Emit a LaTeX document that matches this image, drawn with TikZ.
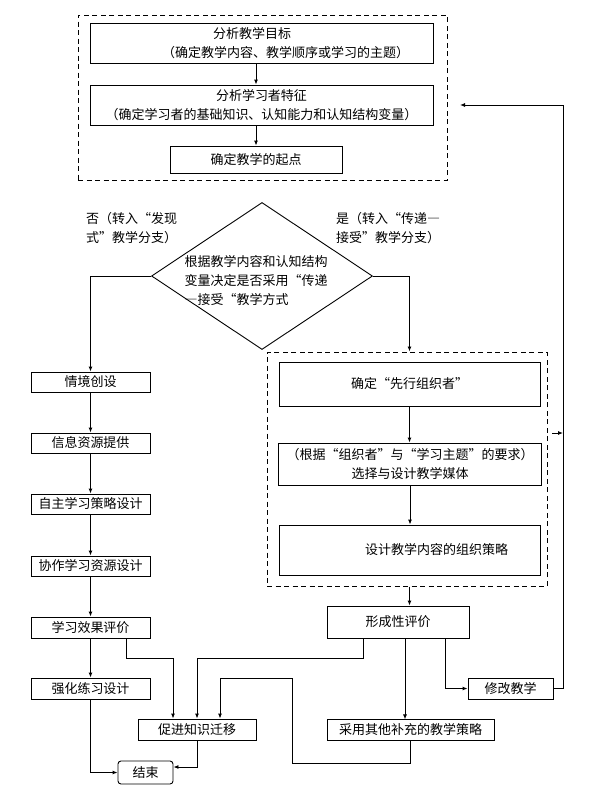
\documentclass[tikz,border=0pt]{standalone}
\usepackage{fontspec}
\setmainfont{Noto Sans CJK SC}[RawFeature=+fwid]
\usetikzlibrary{shapes.geometric,arrows.meta}

\begin{document}
\begin{tikzpicture}[x=1pt, y=-1pt,
    every node/.style={font=\fontsize{13}{19}\selectfont},
    box/.style={draw, line width=0.9pt, inner sep=0pt, align=center},
    frame/.style={draw, line width=1pt, dash pattern=on 5pt off 3.5pt, inner sep=0pt},
    decision/.style={draw, diamond, line width=0.9pt, inner sep=0pt},
    link/.style={line width=0.9pt, -{Latex[length=5pt,width=4pt]}}]
\useasboundingbox (0,0) rectangle (592,793);
\node[frame, minimum width=369pt, minimum height=165pt] (topframe) at (262.5,97.5) {}; % TopFrame
\node[box, minimum width=343pt, minimum height=40pt] (aim) at (261.5,43) {分析教学目标\hspace*{19pt}\\\hspace*{48pt}（确定教学内容、教学顺序或学习的主题）}; % Aim
\node[box, minimum width=343pt, minimum height=40pt] (learner) at (261.5,105) {分析学习者特征\\（确定学习者的基础知识、认知能力和认知结构变量）}; % Learner
\node[box, minimum width=172pt, minimum height=27pt] (start) at (256,159.5) {确定教学的起点}; % Start
\node[decision, minimum width=221pt, minimum height=147pt] (decide) at (262,276) {}; % Decide
\node[align=left, inner sep=0pt] (decidetxt) at (256,281) {根据教学内容和认知结构\\变量决定是否采用“传递\\—接受“教学方式}; % DecideText
\node[align=left, inner sep=0pt, anchor=west] (nolabel) at (86,228) {否（转入“发现\\式”教学分支）}; % NoBranch
\node[align=left, inner sep=0pt, anchor=west] (yeslabel) at (336,228) {是（转入“传递—\\接受”教学分支）}; % YesBranch
\node[box, minimum width=119pt, minimum height=20pt] (situation) at (90.5,382) {情境创设}; % Left.0
\node[box, minimum width=119pt, minimum height=20pt] (info) at (90.5,443) {信息资源提供}; % Left.1
\node[box, minimum width=119pt, minimum height=20pt] (selfstudy) at (90.5,504) {自主学习策略设计}; % Left.2
\node[box, minimum width=119pt, minimum height=20pt] (coop) at (90.5,566) {协作学习资源设计}; % Left.3
\node[box, minimum width=119pt, minimum height=21pt] (effect) at (90.5,627.5) {学习效果评价}; % Left.4
\node[box, minimum width=119pt, minimum height=21pt] (drill) at (90.5,688.5) {强化练习设计}; % Left.5
\node[box, minimum width=118pt, minimum height=21pt] (transfer) at (197,729.5) {促进知识迁移}; % Transfer
\node[box, rounded corners=3pt, minimum width=55pt, minimum height=23pt] (finish) at (145.5,772.5) {结束}; % Finish
\node[frame, minimum width=280pt, minimum height=234pt] (rframe) at (407,469) {}; % RightFrame
\node[box, minimum width=261pt, minimum height=44pt] (organizer) at (409.5,384) {确定“先行组织者”}; % Right.0
\node[box, minimum width=263pt, minimum height=42pt] (media) at (410,464) {（根据“组织者”与“学习主题”的要求）\\选择与设计教学媒体}; % Right.1
\node[box, minimum width=261pt, minimum height=50pt] (strategy) at (409.5,550) {\hspace*{54pt}设计教学内容的组织策略}; % Right.2
\node[box, minimum width=142pt, minimum height=32pt] (formative) at (398,622) {形成性评价}; % Formative
\node[box, minimum width=85pt, minimum height=21pt] (revise) at (510.5,688.5) {修改教学}; % Revise
\node[box, minimum width=167pt, minimum height=21pt] (other) at (410.5,729.5) {采用其他补充的教学策略}; % Other
\coordinate (turnlow) at (563,688.5); % LoopLow
\coordinate (turnhigh) at (563,105); % LoopHigh
\coordinate (topin) at (460,105); % LoopEnd
\coordinate (rtap) at (552,433); % RightTap
\draw[link] (aim.south -| start.north) -- (learner.north -| start.north); % aim-learner
\draw[link] (learner.south -| start.north) -- (start.north); % learner-start
\draw[link] (decide.west) -| (situation.north); % no
\draw[link] (decide.east) -| (organizer.north |- rframe.north); % yes
\draw[link] (situation) -- (info); % Left.0-1
\draw[link] (info) -- (selfstudy); % Left.1-2
\draw[link] (selfstudy) -- (coop); % Left.2-3
\draw[link] (coop) -- (effect); % Left.3-4
\draw[link] (effect) -- (drill); % Left.4-5
\draw[link] (organizer.south) -- (organizer.south |- media.north); % Right.0-1
\draw[link] (media.south) -- (media.south |- strategy.north); % Right.1-2
\draw[link] (rframe.south -| organizer) -- (formative.north -| organizer); % frame-formative
\draw[link] ([xshift=35.5pt]effect.south) -- ++(0,20) -| ([xshift=-24pt]transfer.north); % effect-transfer
\draw[link] ([xshift=-35pt]formative.south) -- ++(0,20) -| (transfer.north); % formative-transfer
\draw[link] (other.south) -- ++(0,23) -| ++(-118,-85) -| ([xshift=23pt]transfer.north); % other-transfer
\draw[link] (transfer.south) |- ([yshift=5.5pt]finish.east); % transfer-finish
\draw[link] (drill.south) |- (finish.west); % drill-finish
\draw[link] ([xshift=7pt]formative.south) -- ++(0,81); % formative-other
\draw[link] ([xshift=47pt]formative.south) |- (revise.west); % formative-revise
\draw[link] (revise.east) -- (turnlow) -- (turnhigh) -- (topin); % revise-loop
\draw[link] (rtap) -- (rtap -| turnlow); % frame-loop
\end{tikzpicture}
\end{document}
